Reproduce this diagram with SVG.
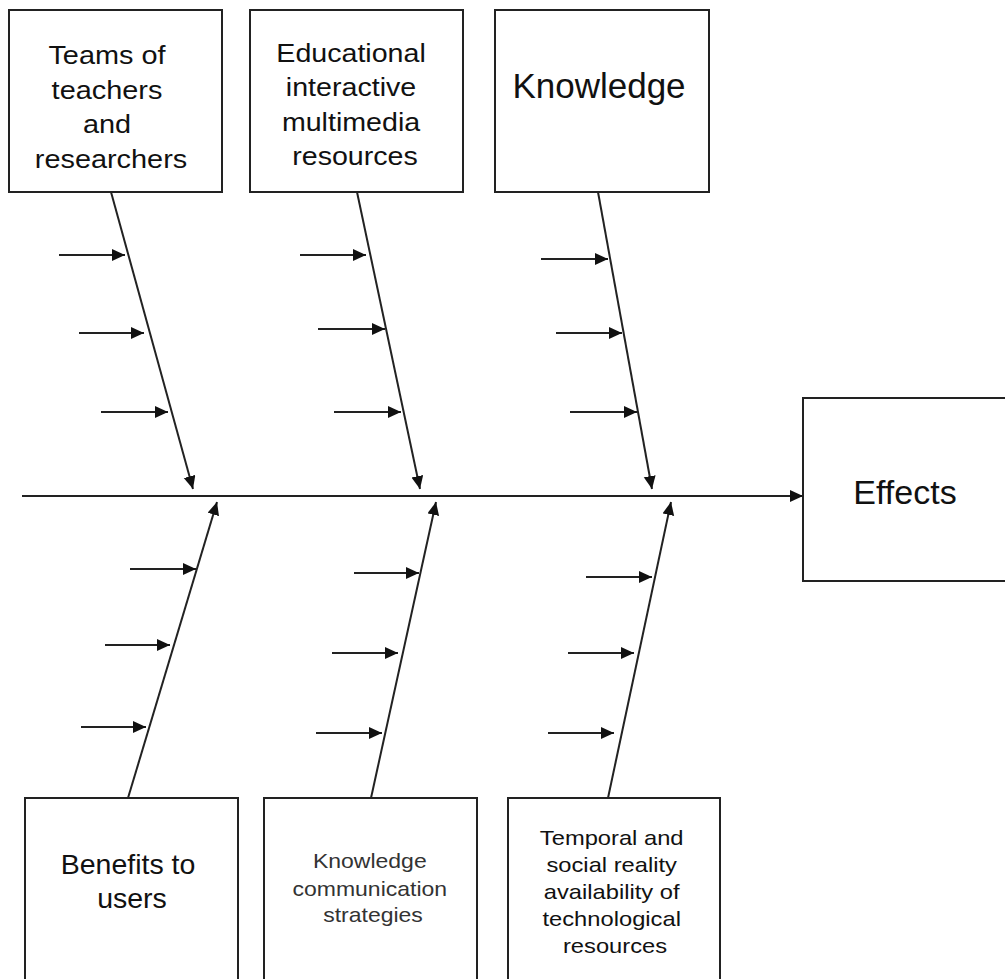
<svg xmlns="http://www.w3.org/2000/svg" width="1005" height="979" viewBox="0 0 1005 979">
  <defs>
    <style>
      .box { fill: #ffffff; stroke: #222222; stroke-width: 2; }
      .cause { stroke: #222222; stroke-width: 2; fill: none; marker-end: url(#head); }
      .t { font-family: "Liberation Sans", Arial, sans-serif; fill: #111111; text-anchor: middle; }
      .small { fill: #333333; }
    </style>
    <marker id="head" markerUnits="userSpaceOnUse" markerWidth="15" markerHeight="13" refX="13" refY="6" orient="auto">
      <path d="M0,0 L13,6 L0,12 Z" fill="#111111"/>
    </marker>
  </defs>

  <rect width="1005" height="979" fill="#ffffff"/>

  <!-- connectors: spine, bones and sub-cause arrows -->
  <g id="connectors">
    <line class="cause" x1="22" y1="496" x2="803" y2="496"/>

    <line class="cause" x1="111" y1="192" x2="193" y2="489"/>
    <line class="cause" x1="357" y1="192" x2="420" y2="489"/>
    <line class="cause" x1="598" y1="192" x2="652" y2="489"/>

    <line class="cause" x1="128" y1="798" x2="217" y2="502"/>
    <line class="cause" x1="371" y1="798" x2="436" y2="502"/>
    <line class="cause" x1="608" y1="798" x2="671" y2="502"/>

    <line class="cause" x1="59" y1="255" x2="125" y2="255"/>
    <line class="cause" x1="79" y1="333" x2="144" y2="333"/>
    <line class="cause" x1="101" y1="412" x2="168" y2="412"/>

    <line class="cause" x1="300" y1="255" x2="366" y2="255"/>
    <line class="cause" x1="318" y1="329" x2="385" y2="329"/>
    <line class="cause" x1="334" y1="412" x2="401" y2="412"/>

    <line class="cause" x1="541" y1="259" x2="608" y2="259"/>
    <line class="cause" x1="556" y1="333" x2="622" y2="333"/>
    <line class="cause" x1="570" y1="412" x2="637" y2="412"/>

    <line class="cause" x1="130" y1="569" x2="196" y2="569"/>
    <line class="cause" x1="105" y1="645" x2="170" y2="645"/>
    <line class="cause" x1="81" y1="727" x2="146" y2="727"/>

    <line class="cause" x1="354" y1="573" x2="419" y2="573"/>
    <line class="cause" x1="332" y1="653" x2="398" y2="653"/>
    <line class="cause" x1="316" y1="733" x2="382" y2="733"/>

    <line class="cause" x1="586" y1="577" x2="652" y2="577"/>
    <line class="cause" x1="568" y1="653" x2="634" y2="653"/>
    <line class="cause" x1="548" y1="733" x2="614" y2="733"/>
  </g>

  <g id="node-teams">
    <rect class="box" x="9" y="10" width="213" height="182"/>
    <g transform="translate(111,0) scale(1.09,1)">
      <text class="t" x="0" font-size="26.5">
        <tspan x="0" y="64">Teams of</tspan>
        <tspan x="0" y="99">teachers</tspan>
        <tspan x="0" y="133">and</tspan>
        <tspan x="0" y="168">researchers</tspan>
      </text>
    </g>
  </g>

  <g id="node-resources">
    <rect class="box" x="250" y="10" width="213" height="182"/>
    <g transform="translate(355,0) scale(1.1,1)">
      <text class="t" x="0" font-size="26">
        <tspan x="0" y="62">Educational</tspan>
        <tspan x="0" y="96">interactive</tspan>
        <tspan x="0" y="131">multimedia</tspan>
        <tspan x="0" y="165">resources</tspan>
      </text>
    </g>
  </g>

  <g id="node-knowledge">
    <rect class="box" x="495" y="10" width="214" height="182"/>
    <text class="t" x="599" y="98" font-size="35">Knowledge</text>
  </g>

  <g id="node-effects">
    <rect class="box" x="803" y="398" width="215" height="183"/>
    <text class="t" x="905" y="504" font-size="34">Effects</text>
  </g>

  <g id="node-benefits">
    <rect class="box" x="25" y="798" width="213" height="195"/>
    <text class="t" font-size="28.5">
      <tspan x="132" y="874">Benefits to</tspan>
      <tspan x="132" y="908">users</tspan>
    </text>
  </g>

  <g id="node-strategies">
    <rect class="box" x="264" y="798" width="213" height="195"/>
    <g transform="translate(373,0) scale(1.15,1)">
      <text class="t small" x="0" font-size="20">
        <tspan x="0" y="868">Knowledge</tspan>
        <tspan x="0" y="896">communication</tspan>
        <tspan x="0" y="922">strategies</tspan>
      </text>
    </g>
  </g>

  <g id="node-reality">
    <rect class="box" x="508" y="798" width="212" height="195"/>
    <g transform="translate(615,0) scale(1.13,1)">
      <text class="t" x="0" font-size="21">
        <tspan x="0" y="845">Temporal and</tspan>
        <tspan x="0" y="872">social reality</tspan>
        <tspan x="0" y="899">availability of</tspan>
        <tspan x="0" y="926">technological</tspan>
        <tspan x="0" y="953">resources</tspan>
      </text>
    </g>
  </g>
</svg>
